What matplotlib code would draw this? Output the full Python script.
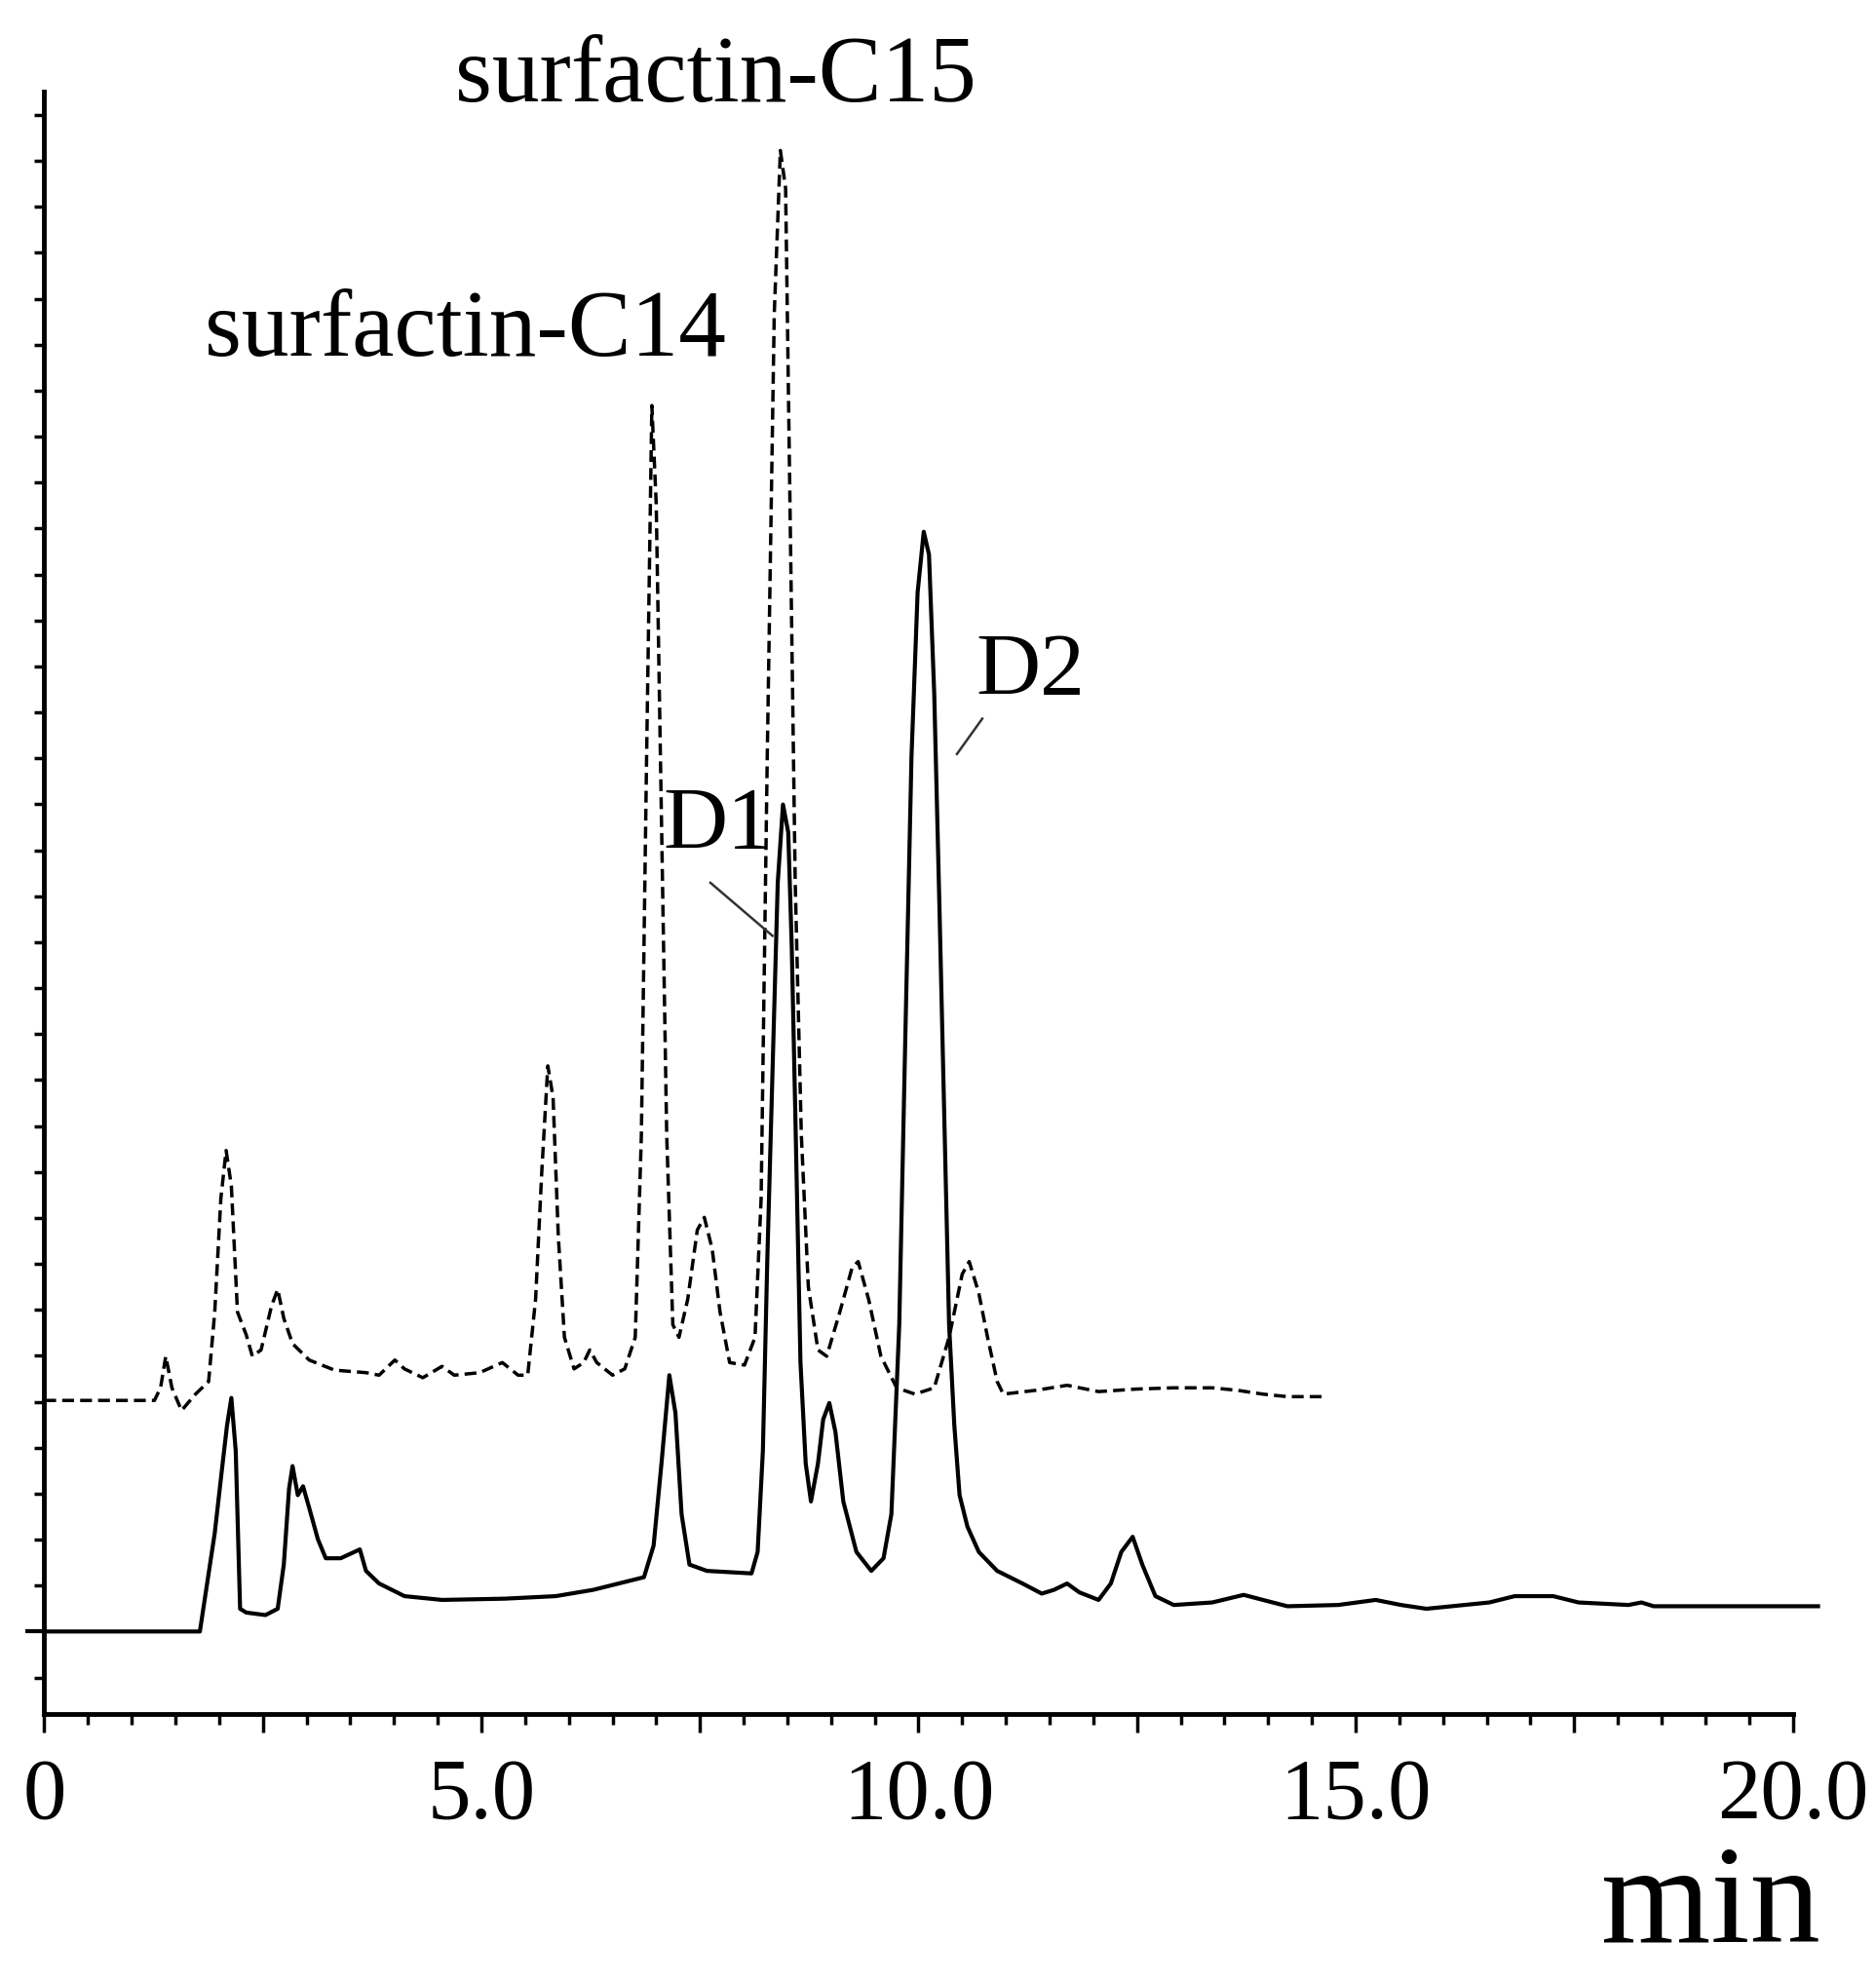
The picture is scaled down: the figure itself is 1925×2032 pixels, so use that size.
import numpy as np
import matplotlib
matplotlib.use('Agg')
from matplotlib import pyplot as plt
from matplotlib.ticker import MultipleLocator

# solid trace (sample), time in min / signal
t_solid = [0.00, 1.78, 1.83, 1.95, 2.04, 2.09, 2.14, 2.19, 2.24, 2.31, 2.53, 2.67, 2.74, 2.80,
           2.84, 2.90, 2.96, 3.03, 3.13, 3.22, 3.39, 3.61, 3.68, 3.83, 4.12, 4.55, 5.27, 5.85,
           6.28, 6.57, 6.86, 6.97, 7.06, 7.15, 7.22, 7.29, 7.38, 7.58, 8.09, 8.16, 8.22, 8.27,
           8.33, 8.39, 8.45, 8.51, 8.55, 8.59, 8.65, 8.71, 8.77, 8.85, 8.91, 8.98, 9.05, 9.14,
           9.29, 9.46, 9.60, 9.69, 9.78, 9.85, 9.92, 9.99, 10.06, 10.12, 10.18, 10.24, 10.30,
           10.35, 10.41, 10.47, 10.56, 10.69, 10.90, 11.19, 11.41, 11.55, 11.70, 11.84, 12.06,
           12.20, 12.32, 12.45, 12.56, 12.71, 12.92, 13.36, 13.72, 13.94, 14.22, 14.80, 15.23,
           15.52, 15.81, 16.53, 16.82, 17.26, 17.55, 18.12, 18.27, 18.41, 20.29]
v_solid = [0.0, 0.0, 2.3, 7.8, 13.3, 16.3, 18.5, 14.3, 1.8, 1.5, 1.3, 1.8, 5.3, 11.3,
           13.1, 10.8, 11.5, 9.8, 7.3, 5.8, 5.8, 6.5, 4.8, 3.8, 2.8, 2.5, 2.6, 2.8,
           3.3, 3.8, 4.3, 6.8, 13.3, 20.3, 17.3, 9.3, 5.3, 4.8, 4.6, 6.3, 14.3, 29.3,
           44.3, 59.3, 65.5, 63.3, 54.3, 41.3, 21.3, 13.3, 10.3, 13.3, 16.8, 18.1, 15.8, 10.3,
           6.3, 4.8, 5.8, 9.3, 24.3, 47.3, 69.3, 82.3, 87.1, 85.3, 74.3, 57.3, 39.3,
           24.3, 16.3, 10.8, 8.3, 6.3, 4.8, 3.8, 3.0, 3.3, 3.8, 3.1, 2.5,
           3.8, 6.3, 7.5, 5.3, 2.8, 2.1, 2.3, 2.9, 2.5, 2.0, 2.1, 2.5,
           2.1, 1.8, 2.3, 2.8, 2.8, 2.3, 2.1, 2.3, 2.0, 2.0]

# dashed trace (standard), drawn with an offset
t_dash = [0.00, 1.26, 1.33, 1.39, 1.46, 1.57, 1.73, 1.88, 1.95, 2.02, 2.08, 2.14, 2.21, 2.31,
          2.38, 2.48, 2.60, 2.67, 2.74, 2.84, 3.03, 3.32, 3.68, 3.83, 4.01, 4.12, 4.33, 4.55,
          4.69, 4.98, 5.24, 5.42, 5.53, 5.62, 5.69, 5.76, 5.82, 5.88, 5.95, 6.06, 6.17, 6.24,
          6.32, 6.50, 6.64, 6.76, 6.83, 6.89, 6.95, 7.00, 7.06, 7.12, 7.19, 7.26, 7.36, 7.47,
          7.55, 7.64, 7.73, 7.84, 8.01, 8.13, 8.20, 8.27, 8.35, 8.42, 8.48, 8.53, 8.59, 8.66,
          8.74, 8.85, 8.95, 9.10, 9.24, 9.31, 9.43, 9.57, 9.75, 9.96, 10.18, 10.35, 10.50,
          10.58, 10.69, 10.79, 10.90, 10.97, 11.34, 11.70, 12.06, 12.49, 12.92, 13.36, 13.65,
          13.94, 14.22, 14.63]
v_dash = [0.0, 0.0, 1.0, 3.5, 1.0, -0.8, 0.5, 1.5, 7.0, 16.0, 19.8, 17.0, 7.0, 5.2,
          3.5, 4.0, 7.5, 8.8, 6.5, 4.5, 3.2, 2.4, 2.2, 2.0, 3.2, 2.5, 1.8, 2.7,
          2.0, 2.2, 3.0, 2.0, 2.0, 8.0, 18.0, 26.5, 24.0, 13.0, 5.0, 2.5, 3.0, 4.0,
          3.0, 2.0, 2.5, 5.0, 21.0, 51.0, 78.8, 71.0, 46.0, 21.0, 6.0, 5.0, 8.0, 13.5,
          14.5, 12.0, 7.0, 3.0, 2.8, 5.0, 16.0, 51.0, 86.0, 99.0, 96.0, 71.0, 41.0, 21.0,
          9.0, 4.0, 3.5, 7.0, 10.5, 11.0, 8.0, 3.5, 1.0, 0.5, 1.0, 5.0, 10.0,
          11.0, 8.5, 5.0, 1.5, 0.5, 0.8, 1.2, 0.7, 0.9, 1.0, 1.0, 0.8,
          0.5, 0.3, 0.3]
dash_offset = 18.3

xtick_vals = [0, 5, 10, 15, 20]
xtick_labels = ['0', '5.0', '10.0', '15.0', '20.0']

serif = 'Liberation Serif'

fig = plt.figure(figsize=(19.25, 20.33), dpi=100)
ax = fig.add_axes([0.0236, 0.1345, 0.932, 0.819])

ax.plot(t_solid, v_solid, color='black', lw=3.0, clip_on=False)
ax.plot(t_dash, np.array(v_dash) + dash_offset, color='black', lw=2.5,
        dashes=(3.5, 1.8), clip_on=False)

ax.set_xlim(0, 20)
ax.set_ylim(-6.5, 122)
ax.spines['top'].set_visible(False)
ax.spines['right'].set_visible(False)
ax.spines['left'].set_linewidth(3.5)
ax.spines['bottom'].set_linewidth(3.5)

ax.set_xticks(np.arange(0, 20.01, 2.5))
ax.set_xticklabels(['' if v not in xtick_vals else xtick_labels[xtick_vals.index(v)]
                    for v in np.arange(0, 20.01, 2.5)])
ax.xaxis.set_minor_locator(MultipleLocator(0.5))
ax.tick_params(axis='x', which='major', direction='out', length=14, width=2.5, pad=18,
               labelsize=64)
ax.tick_params(axis='x', which='minor', direction='out', length=8, width=2.5)
for lab in ax.get_xticklabels():
    lab.set_family(serif)

ax.set_yticks([0])
ax.set_yticklabels([])
ax.set_yticks(np.concatenate([np.arange(-3.64, -0.1, 3.64), np.arange(3.64, 122, 3.64)]),
              minor=True)
ax.tick_params(axis='y', which='major', direction='out', length=14, width=3)
ax.tick_params(axis='y', which='minor', direction='out', length=7, width=2.5)

# peak labels
ax.text(7.68, 121.3, 'surfactin-C15', ha='center', va='baseline', fontsize=70,
        family=serif, clip_on=False)
ax.text(4.82, 101.1, 'surfactin-C14', ha='center', va='baseline', fontsize=70,
        family=serif)
ax.text(7.70, 62.1, 'D1', ha='center', va='baseline', fontsize=66, family=serif)
ax.text(11.28, 74.3, 'D2', ha='center', va='baseline', fontsize=66, family=serif)
ax.plot([7.62, 8.33], [59.3, 55.1], color='#333333', lw=1.8)
ax.plot([10.73, 10.44], [72.3, 69.5], color='#333333', lw=1.8)

fig.text(0.912, 0.02, 'min', ha='center', va='baseline', fontsize=104, family=serif)

plt.savefig('out.png', dpi=100)
